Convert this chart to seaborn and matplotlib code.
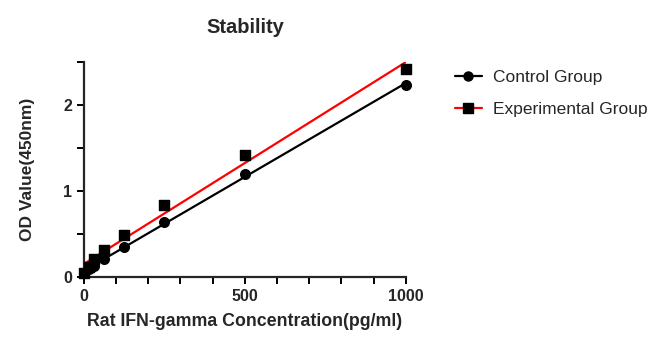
import numpy as np
import pandas as pd
import matplotlib
matplotlib.use("Agg")
import matplotlib.pyplot as plt
import seaborn as sns
from matplotlib.lines import Line2D
from matplotlib.ticker import MultipleLocator

# data
conc = [0, 15.6, 31.25, 62.5, 125, 250, 500, 1000]
od_control = [0.05, 0.09, 0.13, 0.21, 0.35, 0.64, 1.20, 2.23]
od_experimental = [0.05, 0.12, 0.21, 0.31, 0.49, 0.84, 1.42, 2.42]

sns.set_style("ticks")
plt.rcParams['font.family'] = ['Liberation Sans', 'DejaVu Sans']

df = pd.DataFrame({"conc": conc, "control": od_control, "exp": od_experimental})

fig = plt.figure(figsize=(6.6, 3.5), dpi=100)
ax = fig.add_axes([0.127, 0.209, 0.488, 0.614])

sns.regplot(data=df, x="conc", y="exp", ci=None, marker="s", ax=ax,
            scatter_kws={"color": "black", "s": 48, "alpha": 1, "zorder": 3, "clip_on": False},
            line_kws={"color": "red", "lw": 1.6})
sns.regplot(data=df, x="conc", y="control", ci=None, marker="o", ax=ax,
            scatter_kws={"color": "black", "s": 48, "alpha": 1, "zorder": 3, "clip_on": False},
            line_kws={"color": "black", "lw": 1.6})

ax.set_xlim(0, 1000)
ax.set_ylim(0, 2.5)
ax.xaxis.set_major_locator(MultipleLocator(500))
ax.xaxis.set_minor_locator(MultipleLocator(100))
ax.yaxis.set_major_locator(MultipleLocator(1))
ax.yaxis.set_minor_locator(MultipleLocator(0.5))
sns.despine(ax=ax)
for s in ["left", "bottom"]:
    ax.spines[s].set_linewidth(1.6)
ax.tick_params(which="both", length=5, width=1.4, color="black")
for lab in ax.get_xticklabels() + ax.get_yticklabels():
    lab.set_fontweight("bold")
    lab.set_fontsize(11.5)

ax.set_title("Stability", fontsize=14.5, fontweight="bold", pad=21)
ax.set_xlabel("Rat IFN-gamma Concentration(pg/ml)", fontsize=12.8, fontweight="bold", labelpad=7)
ax.set_ylabel("OD Value(450nm)", fontsize=12.5, fontweight="bold", labelpad=20)

handles = [
    Line2D([], [], color="black", marker="o", markersize=6.5, lw=1.6),
    Line2D([], [], color="red", marker="s", markersize=6.5, markerfacecolor="black",
           markeredgecolor="black", lw=1.6),
]
fig.legend(handles, ["Control Group", "Experimental Group"], loc="upper left",
           bbox_to_anchor=(0.665, 0.845), frameon=False, fontsize=12.5,
           handlelength=1.6, handletextpad=0.6, labelspacing=0.95)

fig.savefig("out.png", dpi=100)
